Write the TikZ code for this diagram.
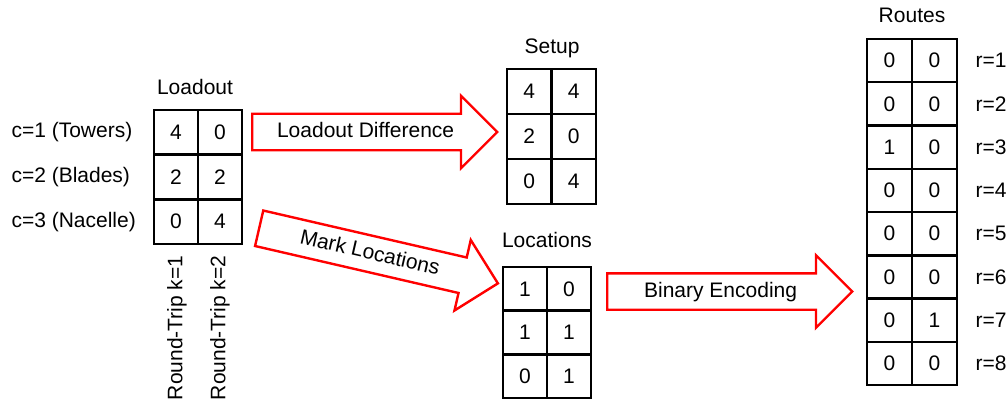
\documentclass[tikz,border=0pt]{standalone}
\usepackage{fontspec}
\setmainfont{Liberation Sans}
\usetikzlibrary{shapes.arrows}
\tikzset{
  cell/.style={draw, line width=2.5pt, minimum width=44pt, minimum height=44pt, inner sep=0pt},
  bigarrow/.style={single arrow, draw=red, line width=2.4pt, minimum height=245pt, minimum width=70pt,
    single arrow head extend=18pt, text height=15pt, text depth=4pt, inner ysep=7.5pt, inner xsep=4pt, anchor=tail},
}
\begin{document}
\begin{tikzpicture}[x=1pt,y=-1pt,font=\fontsize{21}{25}\selectfont]
\useasboundingbox (0,0) rectangle (1006,401);
% loadout
\node (load-title) at (195,87) {Loadout};
\foreach \a/\b/\c [count=\r] in {4/0/Towers,2/2/Blades,0/4/Nacelle} {
  \node[cell, minimum height=44.7pt] (load-\r-1) at (176,87.65+44.7*\r) {\a};
  \node[cell, minimum height=44.7pt] (load-\r-2) at (220,87.65+44.7*\r) {\b};
  \node[anchor=west] (comp-\r) at (8,87.65+44.7*\r) {c=\r\ (\c)};
}
\node[rotate=90, anchor=east] (trip-1) at (177,252) {Round-Trip k=1};
\node[rotate=90, anchor=east] (trip-2) at (220,252) {Round-Trip k=2};
% setup
\node (setup-title) at (552,48) {Setup};
\foreach \a/\b [count=\r] in {4/4,2/0,0/4} {
  \node[cell, minimum width=44.5pt, minimum height=45pt] (setup-\r-1) at (529.25,46.5+45*\r) {\a};
  \node[cell, minimum width=44.5pt, minimum height=45pt] (setup-\r-2) at (573.75,46.5+45*\r) {\b};
}
% locations
\node (loc-title) at (547,240) {Locations};
\foreach \a/\b [count=\r] in {1/0,1/1,0/1} {
  \node[cell, minimum height=43.7pt] (loc-\r-1) at (525,245.15+43.7*\r) {\a};
  \node[cell, minimum height=43.7pt] (loc-\r-2) at (569,245.15+43.7*\r) {\b};
}
% routes
\node (route-title) at (912,15) {Routes};
\foreach \a/\b [count=\r] in {0/0,0/0,1/0,0/0,0/0,0/0,0/1,0/0} {
  \node[cell, minimum width=45pt, minimum height=43.25pt] (route-\r-1) at (889.5,17.375+43.25*\r) {\a};
  \node[cell, minimum width=45pt, minimum height=43.25pt] (route-\r-2) at (934.5,17.375+43.25*\r) {\b};
  \node[anchor=west] (rnum-\r) at (972,17.375+43.25*\r) {r=\r};
}
% arrows
\node[bigarrow] (diff) at (251,132) {Loadout Difference};
\node[bigarrow, rotate=-13] (mark) at (258,228) {Mark Locations};
\node[bigarrow] (enc) at (606,291.5) {Binary Encoding};
\end{tikzpicture}
\end{document}
